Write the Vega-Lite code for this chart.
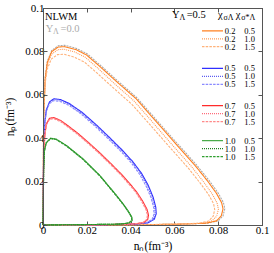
{
"$schema": "https://vega.github.io/schema/vega-lite/v6.json",
"width": 219, "height": 217,
"autosize": {"type": "none"},
"padding": {"left": 43, "top": 8, "right": 12, "bottom": 28},
"config": {
  "font": "Liberation Serif",
  "view": {"stroke": "#555", "strokeWidth": 1},
  "axis": {"labelFont": "Liberation Serif", "titleFont": "Liberation Serif", "labelFontSize": 11, "titleFontSize": 11.5, "titleFontWeight": "normal", "labelColor": "#000", "titleColor": "#000", "domainColor": "#555", "tickColor": "#555", "tickSize": -4, "grid": false, "labelPadding": 3, "labelFlush": false, "labelOverlap": false, "labelBound": false}
},
"datasets": {
  "curves": [
    {"c":"Y0","x":0,"y":0},{"c":"Y0","x":0.0003,"y":0.050},{"c":"Y0","x":0.001,"y":0.068},{"c":"Y0","x":0.002,"y":0.0755},{"c":"Y0","x":0.004,"y":0.0805},{"c":"Y0","x":0.007,"y":0.0826},{"c":"Y0","x":0.010,"y":0.0828},{"c":"Y0","x":0.015,"y":0.0815},{"c":"Y0","x":0.020,"y":0.0790},{"c":"Y0","x":0.026,"y":0.0738},{"c":"Y0","x":0.034,"y":0.0665},{"c":"Y0","x":0.043,"y":0.0585},{"c":"Y0","x":0.050,"y":0.0505},{"c":"Y0","x":0.055,"y":0.0448},{"c":"Y0","x":0.062,"y":0.0368},{"c":"Y0","x":0.070,"y":0.0278},{"c":"Y0","x":0.076,"y":0.0203},{"c":"Y0","x":0.080,"y":0.0147},{"c":"Y0","x":0.0824,"y":0.0103},{"c":"Y0","x":0.0830,"y":0.0075},{"c":"Y0","x":0.0822,"y":0.0042},{"c":"Y0","x":0.0800,"y":0.0019},{"c":"Y0","x":0.0750,"y":0.0008},{"c":"Y0","x":0.060,"y":0.0003},{"c":"Y0","x":0.030,"y":0.0001},{"c":"Y0","x":0,"y":0},

    {"c":"o1","x":0,"y":0},{"c":"o1","x":0.0003,"y":0.0497},{"c":"o1","x":0.001,"y":0.0675},{"c":"o1","x":0.002,"y":0.0750},{"c":"o1","x":0.004,"y":0.0799},{"c":"o1","x":0.0069,"y":0.0820},{"c":"o1","x":0.0099,"y":0.0822},{"c":"o1","x":0.0149,"y":0.0809},{"c":"o1","x":0.0198,"y":0.0784},{"c":"o1","x":0.0257,"y":0.0733},{"c":"o1","x":0.0337,"y":0.0660},{"c":"o1","x":0.0426,"y":0.0581},{"c":"o1","x":0.0495,"y":0.0501},{"c":"o1","x":0.0545,"y":0.0445},{"c":"o1","x":0.0614,"y":0.0365},{"c":"o1","x":0.0693,"y":0.0276},{"c":"o1","x":0.0752,"y":0.0202},{"c":"o1","x":0.0792,"y":0.0146},{"c":"o1","x":0.0816,"y":0.0102},{"c":"o1","x":0.0822,"y":0.0074},{"c":"o1","x":0.0814,"y":0.0042},{"c":"o1","x":0.0792,"y":0.0019},{"c":"o1","x":0.0743,"y":0.0008},{"c":"o1","x":0.0594,"y":0.0003},{"c":"o1","x":0.0297,"y":0.0001},{"c":"o1","x":0,"y":0},

    {"c":"o2","x":0,"y":0},{"c":"o2","x":0.0003,"y":0.0489},{"c":"o2","x":0.001,"y":0.0665},{"c":"o2","x":0.0019,"y":0.0738},{"c":"o2","x":0.0039,"y":0.0787},{"c":"o2","x":0.0068,"y":0.0808},{"c":"o2","x":0.0097,"y":0.0810},{"c":"o2","x":0.0145,"y":0.0797},{"c":"o2","x":0.0193,"y":0.0773},{"c":"o2","x":0.0251,"y":0.0722},{"c":"o2","x":0.0328,"y":0.0650},{"c":"o2","x":0.0415,"y":0.0572},{"c":"o2","x":0.0483,"y":0.0494},{"c":"o2","x":0.0531,"y":0.0438},{"c":"o2","x":0.0598,"y":0.0360},{"c":"o2","x":0.0676,"y":0.0272},{"c":"o2","x":0.0733,"y":0.0199},{"c":"o2","x":0.0772,"y":0.0144},{"c":"o2","x":0.0795,"y":0.0101},{"c":"o2","x":0.0801,"y":0.0073},{"c":"o2","x":0.0793,"y":0.0041},{"c":"o2","x":0.0772,"y":0.0019},{"c":"o2","x":0.0724,"y":0.0008},{"c":"o2","x":0.0579,"y":0.0003},{"c":"o2","x":0.0290,"y":0.0001},{"c":"o2","x":0,"y":0},

    {"c":"o3","x":0,"y":0},{"c":"o3","x":0.0003,"y":0.0475},{"c":"o3","x":0.0009,"y":0.0646},{"c":"o3","x":0.0019,"y":0.0717},{"c":"o3","x":0.0038,"y":0.0765},{"c":"o3","x":0.0066,"y":0.0785},{"c":"o3","x":0.0095,"y":0.0787},{"c":"o3","x":0.0142,"y":0.0774},{"c":"o3","x":0.0189,"y":0.0751},{"c":"o3","x":0.0246,"y":0.0701},{"c":"o3","x":0.0321,"y":0.0632},{"c":"o3","x":0.0406,"y":0.0556},{"c":"o3","x":0.0473,"y":0.0480},{"c":"o3","x":0.0520,"y":0.0426},{"c":"o3","x":0.0586,"y":0.0350},{"c":"o3","x":0.0662,"y":0.0264},{"c":"o3","x":0.0718,"y":0.0193},{"c":"o3","x":0.0756,"y":0.0140},{"c":"o3","x":0.0779,"y":0.0098},{"c":"o3","x":0.0784,"y":0.0071},{"c":"o3","x":0.0777,"y":0.0040},{"c":"o3","x":0.0756,"y":0.0018},{"c":"o3","x":0.0709,"y":0.0008},{"c":"o3","x":0.0567,"y":0.0003},{"c":"o3","x":0.0284,"y":0.0001},{"c":"o3","x":0,"y":0},

    {"c":"b1","x":0,"y":0},{"c":"b1","x":0.0003,"y":0.035},{"c":"b1","x":0.0008,"y":0.047},{"c":"b1","x":0.0015,"y":0.0530},{"c":"b1","x":0.003,"y":0.0568},{"c":"b1","x":0.005,"y":0.0582},{"c":"b1","x":0.008,"y":0.0578},{"c":"b1","x":0.012,"y":0.0560},{"c":"b1","x":0.018,"y":0.0518},{"c":"b1","x":0.0245,"y":0.0460},{"c":"b1","x":0.030,"y":0.0407},{"c":"b1","x":0.036,"y":0.0347},{"c":"b1","x":0.041,"y":0.0292},{"c":"b1","x":0.045,"y":0.0238},{"c":"b1","x":0.048,"y":0.0184},{"c":"b1","x":0.0503,"y":0.0128},{"c":"b1","x":0.0515,"y":0.0082},{"c":"b1","x":0.0517,"y":0.0052},{"c":"b1","x":0.0508,"y":0.0026},{"c":"b1","x":0.0480,"y":0.0010},{"c":"b1","x":0.0420,"y":0.0004},{"c":"b1","x":0.030,"y":0.0002},{"c":"b1","x":0,"y":0},

    {"c":"b2","x":0,"y":0},{"c":"b2","x":0.0003,"y":0.0348},{"c":"b2","x":0.0008,"y":0.0467},{"c":"b2","x":0.0015,"y":0.0526},{"c":"b2","x":0.003,"y":0.0564},{"c":"b2","x":0.005,"y":0.0578},{"c":"b2","x":0.0079,"y":0.0574},{"c":"b2","x":0.0119,"y":0.0556},{"c":"b2","x":0.0178,"y":0.0514},{"c":"b2","x":0.0243,"y":0.0457},{"c":"b2","x":0.0297,"y":0.0404},{"c":"b2","x":0.0356,"y":0.0345},{"c":"b2","x":0.0406,"y":0.0290},{"c":"b2","x":0.0446,"y":0.0236},{"c":"b2","x":0.0475,"y":0.0183},{"c":"b2","x":0.0498,"y":0.0127},{"c":"b2","x":0.0510,"y":0.0081},{"c":"b2","x":0.0512,"y":0.0052},{"c":"b2","x":0.0503,"y":0.0026},{"c":"b2","x":0.0475,"y":0.0010},{"c":"b2","x":0.0416,"y":0.0004},{"c":"b2","x":0.0297,"y":0.0002},{"c":"b2","x":0,"y":0},

    {"c":"b3","x":0,"y":0},{"c":"b3","x":0.0003,"y":0.0345},{"c":"b3","x":0.0008,"y":0.0463},{"c":"b3","x":0.0015,"y":0.0522},{"c":"b3","x":0.0029,"y":0.0559},{"c":"b3","x":0.0049,"y":0.0573},{"c":"b3","x":0.0078,"y":0.0569},{"c":"b3","x":0.0118,"y":0.0552},{"c":"b3","x":0.0176,"y":0.0510},{"c":"b3","x":0.0240,"y":0.0453},{"c":"b3","x":0.0294,"y":0.0401},{"c":"b3","x":0.0353,"y":0.0342},{"c":"b3","x":0.0402,"y":0.0288},{"c":"b3","x":0.0441,"y":0.0234},{"c":"b3","x":0.0470,"y":0.0181},{"c":"b3","x":0.0493,"y":0.0126},{"c":"b3","x":0.0505,"y":0.0081},{"c":"b3","x":0.0507,"y":0.0051},{"c":"b3","x":0.0498,"y":0.0026},{"c":"b3","x":0.0470,"y":0.0010},{"c":"b3","x":0.0412,"y":0.0004},{"c":"b3","x":0.0294,"y":0.0002},{"c":"b3","x":0,"y":0},

    {"c":"r1","x":0,"y":0},{"c":"r1","x":0.0003,"y":0.030},{"c":"r1","x":0.0008,"y":0.041},{"c":"r1","x":0.0015,"y":0.0465},{"c":"r1","x":0.003,"y":0.0492},{"c":"r1","x":0.005,"y":0.0495},{"c":"r1","x":0.008,"y":0.0482},{"c":"r1","x":0.0108,"y":0.0462},{"c":"r1","x":0.016,"y":0.0422},{"c":"r1","x":0.021,"y":0.0378},{"c":"r1","x":0.026,"y":0.0332},{"c":"r1","x":0.031,"y":0.0283},{"c":"r1","x":0.036,"y":0.0232},{"c":"r1","x":0.0405,"y":0.0180},{"c":"r1","x":0.0428,"y":0.0152},{"c":"r1","x":0.0455,"y":0.0110},{"c":"r1","x":0.0475,"y":0.0072},{"c":"r1","x":0.0482,"y":0.0045},{"c":"r1","x":0.0478,"y":0.0025},{"c":"r1","x":0.0460,"y":0.0011},{"c":"r1","x":0.0420,"y":0.0005},{"c":"r1","x":0.030,"y":0.0002},{"c":"r1","x":0,"y":0},

    {"c":"r2","x":0,"y":0},{"c":"r2","x":0.0003,"y":0.0299},{"c":"r2","x":0.0008,"y":0.0408},{"c":"r2","x":0.0015,"y":0.0463},{"c":"r2","x":0.003,"y":0.0490},{"c":"r2","x":0.005,"y":0.0493},{"c":"r2","x":0.008,"y":0.0480},{"c":"r2","x":0.0107,"y":0.0460},{"c":"r2","x":0.0159,"y":0.0420},{"c":"r2","x":0.0209,"y":0.0376},{"c":"r2","x":0.0259,"y":0.0330},{"c":"r2","x":0.0308,"y":0.0282},{"c":"r2","x":0.0358,"y":0.0231},{"c":"r2","x":0.0403,"y":0.0179},{"c":"r2","x":0.0426,"y":0.0151},{"c":"r2","x":0.0453,"y":0.0109},{"c":"r2","x":0.0473,"y":0.0072},{"c":"r2","x":0.0480,"y":0.0045},{"c":"r2","x":0.0476,"y":0.0025},{"c":"r2","x":0.0458,"y":0.0011},{"c":"r2","x":0.0418,"y":0.0005},{"c":"r2","x":0.0299,"y":0.0002},{"c":"r2","x":0,"y":0},

    {"c":"r3","x":0,"y":0},{"c":"r3","x":0.0003,"y":0.0297},{"c":"r3","x":0.0008,"y":0.0406},{"c":"r3","x":0.0015,"y":0.0460},{"c":"r3","x":0.003,"y":0.0487},{"c":"r3","x":0.005,"y":0.0490},{"c":"r3","x":0.0079,"y":0.0477},{"c":"r3","x":0.0107,"y":0.0457},{"c":"r3","x":0.0158,"y":0.0418},{"c":"r3","x":0.0208,"y":0.0374},{"c":"r3","x":0.0257,"y":0.0329},{"c":"r3","x":0.0307,"y":0.0280},{"c":"r3","x":0.0356,"y":0.0230},{"c":"r3","x":0.0401,"y":0.0178},{"c":"r3","x":0.0424,"y":0.0150},{"c":"r3","x":0.0450,"y":0.0109},{"c":"r3","x":0.0470,"y":0.0071},{"c":"r3","x":0.0477,"y":0.0045},{"c":"r3","x":0.0473,"y":0.0025},{"c":"r3","x":0.0455,"y":0.0011},{"c":"r3","x":0.0416,"y":0.0005},{"c":"r3","x":0.0297,"y":0.0002},{"c":"r3","x":0,"y":0},

    {"c":"g1","x":0,"y":0},{"c":"g1","x":0.0003,"y":0.025},{"c":"g1","x":0.0006,"y":0.034},{"c":"g1","x":0.0015,"y":0.0380},{"c":"g1","x":0.0035,"y":0.0400},{"c":"g1","x":0.006,"y":0.0396},{"c":"g1","x":0.0108,"y":0.0366},{"c":"g1","x":0.0184,"y":0.0304},{"c":"g1","x":0.026,"y":0.0228},{"c":"g1","x":0.0336,"y":0.0136},{"c":"g1","x":0.0370,"y":0.0092},{"c":"g1","x":0.0392,"y":0.0060},{"c":"g1","x":0.0406,"y":0.0036},{"c":"g1","x":0.0407,"y":0.0020},{"c":"g1","x":0.0392,"y":0.0009},{"c":"g1","x":0.0350,"y":0.0004},{"c":"g1","x":0.020,"y":0.0002},{"c":"g1","x":0,"y":0},

    {"c":"g2","x":0,"y":0},{"c":"g2","x":0.0003,"y":0.0249},{"c":"g2","x":0.0006,"y":0.0339},{"c":"g2","x":0.0015,"y":0.0379},{"c":"g2","x":0.0035,"y":0.0399},{"c":"g2","x":0.006,"y":0.0395},{"c":"g2","x":0.0108,"y":0.0365},{"c":"g2","x":0.0183,"y":0.0303},{"c":"g2","x":0.0259,"y":0.0227},{"c":"g2","x":0.0335,"y":0.0136},{"c":"g2","x":0.0369,"y":0.0092},{"c":"g2","x":0.0391,"y":0.0060},{"c":"g2","x":0.0405,"y":0.0036},{"c":"g2","x":0.0406,"y":0.0020},{"c":"g2","x":0.0391,"y":0.0009},{"c":"g2","x":0.0349,"y":0.0004},{"c":"g2","x":0.0199,"y":0.0002},{"c":"g2","x":0,"y":0},

    {"c":"g3","x":0,"y":0},{"c":"g3","x":0.0003,"y":0.0249},{"c":"g3","x":0.0006,"y":0.0338},{"c":"g3","x":0.0015,"y":0.0378},{"c":"g3","x":0.0035,"y":0.0398},{"c":"g3","x":0.006,"y":0.0394},{"c":"g3","x":0.0107,"y":0.0364},{"c":"g3","x":0.0183,"y":0.0302},{"c":"g3","x":0.0259,"y":0.0227},{"c":"g3","x":0.0334,"y":0.0135},{"c":"g3","x":0.0368,"y":0.0092},{"c":"g3","x":0.0390,"y":0.0060},{"c":"g3","x":0.0404,"y":0.0036},{"c":"g3","x":0.0405,"y":0.0020},{"c":"g3","x":0.0390,"y":0.0009},{"c":"g3","x":0.0348,"y":0.0004},{"c":"g3","x":0.0199,"y":0.0002},{"c":"g3","x":0,"y":0}
  ],
  "leg": [
    {"c":"o1","a":"0.2","b":"0.5","y":0.0895},
    {"c":"o2","a":"0.2","b":"1.0","y":0.0858},
    {"c":"o3","a":"0.2","b":"1.5","y":0.0822},
    {"c":"b1","a":"0.5","b":"0.5","y":0.0722},
    {"c":"b2","a":"0.5","b":"1.0","y":0.0685},
    {"c":"b3","a":"0.5","b":"1.5","y":0.0648},
    {"c":"r1","a":"0.7","b":"0.5","y":0.0550},
    {"c":"r2","a":"0.7","b":"1.0","y":0.0513},
    {"c":"r3","a":"0.7","b":"1.5","y":0.0476},
    {"c":"g1","a":"1.0","b":"0.5","y":0.0389},
    {"c":"g2","a":"1.0","b":"1.0","y":0.0352},
    {"c":"g3","a":"1.0","b":"1.5","y":0.0315}
  ],
  "annot": [
    {"t":"NLWM","x":0.0009,"y":0.0945,"k":"m"},
    {"t":"Y","x":0.0012,"y":0.0888,"k":"g"},
    {"t":"Λ","x":0.0046,"y":0.0880,"k":"gs"},
    {"t":"=0.0","x":0.0080,"y":0.0888,"k":"g"},
    {"t":"Y","x":0.0589,"y":0.0952,"k":"m"},
    {"t":"Λ","x":0.0623,"y":0.0943,"k":"s"},
    {"t":"=0.5","x":0.0656,"y":0.0952,"k":"m"},
    {"t":"χ","x":0.0799,"y":0.0952,"k":"m"},
    {"t":"σΛ","x":0.0824,"y":0.0943,"k":"s"},
    {"t":"χ","x":0.0880,"y":0.0952,"k":"m"},
    {"t":"σ*Λ","x":0.0905,"y":0.0943,"k":"s"}
  ]
},
"layer": [
  {
    "data": {"name": "curves"},
    "mark": {"type": "line", "strokeWidth": 1.1},
    "encoding": {
      "x": {"field": "x", "type": "quantitative", "scale": {"domain": [0, 0.1], "nice": false, "zero": false},
            "axis": {"values": [0, 0.02, 0.04, 0.06, 0.08, 0.1], "format": "~g", "title": "nₙ(fm⁻³)", "titlePadding": 5, "labelOverlap": false, "labelFlush": false}},
      "y": {"field": "y", "type": "quantitative", "scale": {"domain": [0, 0.1], "nice": false, "zero": false},
            "axis": {"values": [0, 0.02, 0.04, 0.06, 0.08, 0.1], "format": "~g", "title": "nₚ(fm⁻³)", "titlePadding": 9, "labelOverlap": false, "labelFlush": false, "zindex": 2}},
      "color": {"field": "c", "type": "nominal", "legend": null,
        "scale": {"domain": ["Y0","o1","o2","o3","b1","b2","b3","r1","r2","r3","g1","g2","g3"],
                  "range": ["#aaaaaa","#ff8020","#ff9a55","#ffb27a","#2f2fff","#5c5cf0","#8a8aff","#ff2b2b","#ff6b7a","#ff8a8a","#4aab4a","#1f7f1f","#2f9f2f"]}},
      "strokeDash": {"field": "c", "type": "nominal", "legend": null,
        "scale": {"domain": ["Y0","o1","o2","o3","b1","b2","b3","r1","r2","r3","g1","g2","g3"],
                  "range": [[2,1],[1,0],[1,1],[2.5,1.2],[1,0],[1,1],[2.5,1.2],[1,0],[1,1],[2.5,1.2],[1,0],[1,1],[2.5,1.2]]}},
      "order": {"value": null}
    }
  },
  {
    "data": {"name": "leg"},
    "mark": {"type": "rule", "strokeWidth": 1.3},
    "encoding": {
      "x": {"datum": 0.0726, "type": "quantitative", "axis": null},
      "x2": {"datum": 0.0822},
      "y": {"field": "y", "type": "quantitative", "axis": null},
      "color": {"field": "c", "type": "nominal", "legend": null},
      "strokeDash": {"field": "c", "type": "nominal", "legend": null}
    }
  },
  {
    "data": {"name": "leg"},
    "mark": {"type": "text", "align": "left", "baseline": "middle", "fontSize": 8.5, "font": "Liberation Serif", "fill": "#000"},
    "encoding": {
      "x": {"datum": 0.0830, "type": "quantitative", "axis": null},
      "y": {"field": "y", "type": "quantitative", "axis": null},
      "text": {"field": "a"}
    }
  },
  {
    "data": {"name": "leg"},
    "mark": {"type": "text", "align": "left", "baseline": "middle", "fontSize": 8.5, "font": "Liberation Serif", "fill": "#000"},
    "encoding": {
      "x": {"datum": 0.0919, "type": "quantitative", "axis": null},
      "y": {"field": "y", "type": "quantitative", "axis": null},
      "text": {"field": "b"}
    }
  },
  {
    "data": {"name": "annot"},
    "transform": [{"filter": "datum.k == 'm'"}],
    "mark": {"type": "text", "align": "left", "baseline": "alphabetic", "font": "Liberation Serif", "fontSize": 10.5, "fill": "#000"},
    "encoding": {
      "x": {"field": "x", "type": "quantitative", "axis": null},
      "y": {"field": "y", "type": "quantitative", "axis": null},
      "text": {"field": "t"}
    }
  },
  {
    "data": {"name": "annot"},
    "transform": [{"filter": "datum.k == 's'"}],
    "mark": {"type": "text", "align": "left", "baseline": "alphabetic", "font": "Liberation Serif", "fontSize": 8, "fill": "#000"},
    "encoding": {
      "x": {"field": "x", "type": "quantitative", "axis": null},
      "y": {"field": "y", "type": "quantitative", "axis": null},
      "text": {"field": "t"}
    }
  },
  {
    "data": {"name": "annot"},
    "transform": [{"filter": "datum.k == 'g'"}],
    "mark": {"type": "text", "align": "left", "baseline": "alphabetic", "font": "Liberation Serif", "fontSize": 10.5, "fill": "#aaaaaa"},
    "encoding": {
      "x": {"field": "x", "type": "quantitative", "axis": null},
      "y": {"field": "y", "type": "quantitative", "axis": null},
      "text": {"field": "t"}
    }
  },
  {
    "data": {"name": "annot"},
    "transform": [{"filter": "datum.k == 'gs'"}],
    "mark": {"type": "text", "align": "left", "baseline": "alphabetic", "font": "Liberation Serif", "fontSize": 8, "fill": "#aaaaaa"},
    "encoding": {
      "x": {"field": "x", "type": "quantitative", "axis": null},
      "y": {"field": "y", "type": "quantitative", "axis": null},
      "text": {"field": "t"}
    }
  },
  {
    "data": {"values": [{"x": 0, "y": 0}]},
    "mark": {"type": "point", "opacity": 0},
    "encoding": {
      "x": {"field": "x", "type": "quantitative", "axis": {"orient": "top", "labels": false, "title": null, "values": [0, 0.02, 0.04, 0.06, 0.08, 0.1]}},
      "y": {"field": "y", "type": "quantitative", "axis": {"orient": "right", "labels": false, "title": null, "values": [0, 0.02, 0.04, 0.06, 0.08, 0.1]}}
    }
  }
],
"resolve": {"axis": {"x": "independent", "y": "independent"}}
}
